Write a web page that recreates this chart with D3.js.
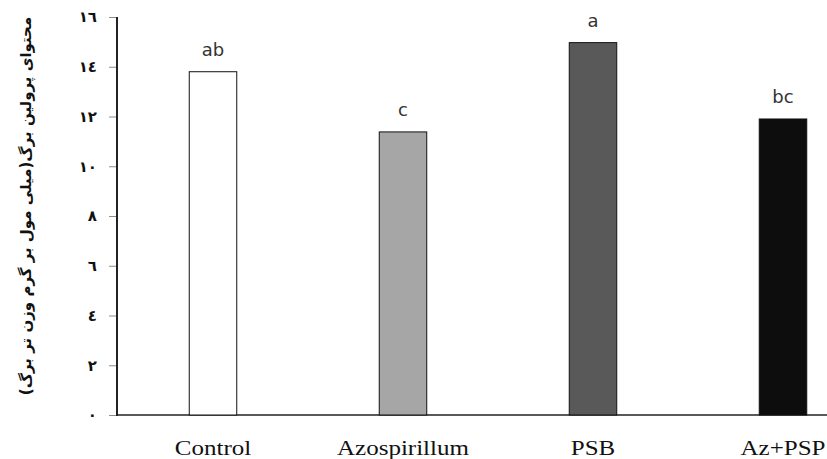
<!DOCTYPE html>
<html>
<head>
<meta charset="utf-8">
<script src="https://cdn.jsdelivr.net/npm/d3@7"></script>
<style>
  body { margin: 0; background: #fff; }
  svg { display: block; }
</style>
</head>
<body>
<div id="chart"></div>
<script>
// treatments and leaf proline content
const categories = ["Control", "Azospirillum", "PSB", "Az+PSP"];
const values = [13.8, 11.38, 14.97, 11.9];
const letters = ["ab", "c", "a", "bc"];
const fills = ["#ffffff", "#a6a6a6", "#595959", "#0d0d0d"];
const yTicks = [0, 2, 4, 6, 8, 10, 12, 14, 16];
const yTitle = "محتوای پرولین برگ(میلی مول بر گرم وزن تر برگ)";

const w = 827, h = 459;
const toArabic = (n) => String(n).replace(/[0-9]/g, (c) => "٠١٢٣٤٥٦٧٨٩"[+c]);

const svg = d3.select("#chart").append("svg")
  .attr("width", w)
  .attr("height", h);

const x = d3.scaleBand()
  .domain(categories)
  .range([118, 878])
  .paddingInner(0.75)
  .paddingOuter(0.375);

const y = d3.scaleLinear()
  .domain([0, 16])
  .range([415, 17]);

// y axis ticks + labels
const yAxis = svg.append("g")
  .attr("transform", "translate(117,0)")
  .call(d3.axisLeft(y).tickValues(yTicks).tickSize(8).tickPadding(12).tickFormat(toArabic));

yAxis.select(".domain").remove();
yAxis.selectAll(".tick line").attr("stroke", "#8c8c8c");
yAxis.selectAll(".tick text")
  .attr("font-family", "DejaVu Sans")
  .attr("font-weight", "bold")
  .attr("font-size", 15)
  .attr("fill", "#111");

// axis lines
svg.append("line")
  .attr("x1", 117).attr("x2", 117)
  .attr("y1", y(16)).attr("y2", y(0) + 1)
  .attr("stroke", "#222").attr("stroke-width", 2);

svg.append("line")
  .attr("x1", 116).attr("x2", w)
  .attr("y1", y(0)).attr("y2", y(0))
  .attr("stroke", "#222").attr("stroke-width", 1.5);

// bars
svg.selectAll(".bar")
  .data(values)
  .enter().append("rect")
  .attr("class", "bar")
  .attr("x", (d, i) => x(categories[i]))
  .attr("y", (d) => y(d))
  .attr("width", x.bandwidth())
  .attr("height", (d) => y(0) - y(d))
  .attr("fill", (d, i) => fills[i])
  .attr("stroke", "#111")
  .attr("stroke-width", 1);

// significance letters
svg.selectAll(".letter")
  .data(values)
  .enter().append("text")
  .attr("class", "letter")
  .attr("x", (d, i) => x(categories[i]) + x.bandwidth() / 2)
  .attr("y", (d) => y(d) - 16)
  .attr("text-anchor", "middle")
  .attr("font-family", "DejaVu Sans")
  .attr("font-size", 18)
  .attr("fill", "#333")
  .text((d, i) => letters[i]);

// category labels, a wide serif like the original
svg.selectAll(".cat")
  .data(categories)
  .enter().append("text")
  .attr("class", "cat")
  .attr("transform", (d) => `translate(${x(d) + x.bandwidth() / 2},455) scale(1.25,1)`)
  .attr("text-anchor", "middle")
  .attr("font-family", "Liberation Serif")
  .attr("font-size", 20)
  .attr("fill", "#111")
  .text((d) => d);

// y title
svg.append("text")
  .attr("transform", "translate(31,206) rotate(-90)")
  .attr("text-anchor", "middle")
  .attr("direction", "rtl")
  .attr("font-family", "DejaVu Sans")
  .attr("font-weight", "bold")
  .attr("font-size", 15)
  .attr("fill", "#111")
  .text(yTitle);
</script>
</body>
</html>
